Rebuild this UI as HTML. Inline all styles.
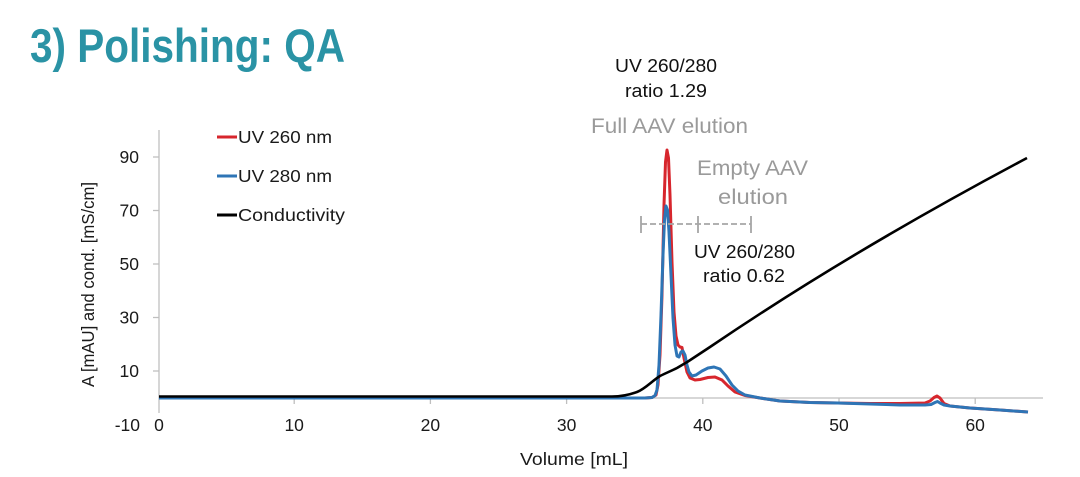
<!DOCTYPE html>
<html><head><meta charset="utf-8"><style>
html,body{margin:0;padding:0;background:#fff;}
svg{display:block;}
text{font-family:"Liberation Sans",sans-serif;}
</style></head><body>
<svg width="1080" height="477" viewBox="0 0 1080 477" xmlns="http://www.w3.org/2000/svg">
<rect width="1080" height="477" fill="#fff"/>
<text x="30" y="62" font-size="47" font-weight="bold" fill="#2a93a5" textLength="315" lengthAdjust="spacingAndGlyphs">3) Polishing: QA</text>

<!-- axes -->
<g stroke="#bfbfbf" stroke-width="1.3" fill="none">
<line x1="159" y1="130" x2="159" y2="413"/>
<line x1="159" y1="398" x2="1043" y2="398"/>
<line x1="153" y1="157" x2="159" y2="157"/>
<line x1="153" y1="210.5" x2="159" y2="210.5"/>
<line x1="153" y1="264" x2="159" y2="264"/>
<line x1="153" y1="317.5" x2="159" y2="317.5"/>
<line x1="153" y1="371" x2="159" y2="371"/>
<line x1="294.2" y1="398" x2="294.2" y2="404"/>
<line x1="430.4" y1="398" x2="430.4" y2="404"/>
<line x1="566.6" y1="398" x2="566.6" y2="404"/>
<line x1="702.8" y1="398" x2="702.8" y2="404"/>
<line x1="839" y1="398" x2="839" y2="404"/>
<line x1="975.2" y1="398" x2="975.2" y2="404"/>
</g>

<g font-size="17.5" fill="#1a1a1a" text-anchor="end">
<text x="139" y="163">90</text>
<text x="139" y="216.5">70</text>
<text x="139" y="270">50</text>
<text x="139" y="323.5">30</text>
<text x="139" y="377">10</text>
<text x="140" y="431">-10</text>
</g>
<g font-size="17.5" fill="#1a1a1a" text-anchor="middle">
<text x="159" y="431">0</text>
<text x="294.2" y="431">10</text>
<text x="430.4" y="431">20</text>
<text x="566.6" y="431">30</text>
<text x="702.8" y="431">40</text>
<text x="839" y="431">50</text>
<text x="975.2" y="431">60</text>
</g>
<text x="520" y="465" font-size="17.5" fill="#1a1a1a" textLength="108" lengthAdjust="spacingAndGlyphs">Volume [mL]</text>
<text transform="translate(94,387) rotate(-90)" font-size="17.5" fill="#1a1a1a" textLength="205" lengthAdjust="spacingAndGlyphs">A [mAU] and cond. [mS/cm]</text>

<!-- legend -->
<line x1="217" y1="137" x2="237" y2="137" stroke="#d7262d" stroke-width="3"/>
<line x1="217" y1="176" x2="237" y2="176" stroke="#2e75b6" stroke-width="3"/>
<line x1="217" y1="215" x2="237" y2="215" stroke="#000" stroke-width="3"/>
<g font-size="17.5" fill="#1a1a1a">
<text x="238" y="143" textLength="94" lengthAdjust="spacingAndGlyphs">UV 260 nm</text>
<text x="238" y="182" textLength="94" lengthAdjust="spacingAndGlyphs">UV 280 nm</text>
<text x="238" y="221" textLength="107" lengthAdjust="spacingAndGlyphs">Conductivity</text>
</g>

<!-- annotations -->
<g font-size="18" fill="#111">
<text x="615" y="72" textLength="102" lengthAdjust="spacingAndGlyphs">UV 260/280</text>
<text x="625" y="97" textLength="82" lengthAdjust="spacingAndGlyphs">ratio 1.29</text>
<text x="694" y="258" textLength="101" lengthAdjust="spacingAndGlyphs">UV 260/280</text>
<text x="703" y="282" textLength="82" lengthAdjust="spacingAndGlyphs">ratio 0.62</text>
</g>
<g font-size="21" fill="#9a9a9a">
<text x="591" y="133" textLength="157" lengthAdjust="spacingAndGlyphs">Full AAV elution</text>
<text x="697" y="175" textLength="111" lengthAdjust="spacingAndGlyphs">Empty AAV</text>
<text x="718" y="204" textLength="70" lengthAdjust="spacingAndGlyphs">elution</text>
</g>

<!-- red UV260 -->
<polyline fill="none" stroke="#d7262d" stroke-width="3" stroke-linejoin="round" points="159,398 645,398 652,397.5 656,395 658,385 660,355 662,295 664,205 665.5,162 667,150 668.5,158 670,195 672,262 674,312 676,336 678,345 680,347 682,347.5 684,358 687,372 690,378 695,380 700,379.5 708,377.5 715,377 722,380 728,386 735,392 745,395.5 760,398 780,401 810,402.5 838,403 870,403.5 900,403.5 925,403 930,401 934,397.5 937,396 940,398 944,403.5 950,406 970,408 1000,410 1028,412"/>
<!-- blue UV280 -->
<polyline fill="none" stroke="#2e75b6" stroke-width="3" stroke-linejoin="round" points="159,398 645,398 652,397.5 655,395.5 657,390 659,365 661,315 663,255 664.5,220 666,206 667.5,210 669,232 671,275 673,318 675,345 677,356 679,357 681,352 683,351 685,355 687,365 689,372 692,376 696,375 702,371 708,368 714,367 720,369 726,376 732,385 738,391 745,395 760,398 780,401 810,402.5 838,403 870,404 900,405 925,405 931,404.5 935,402.5 937.5,401.5 940,403 944,405 950,406 970,408 1000,410 1028,412"/>
<!-- conductivity -->
<path fill="none" stroke="#000" stroke-width="2.6" stroke-linejoin="round" d="M159,396.5 L612,396.5 C622,396.5 630,394.5 637,392 C645,389 652,381 660,376 C666,373 671,371 677,368 L688,361.5 L710,347 C815,275.6 922,213.7 1027,158"/>

<!-- dashed bracket -->
<g stroke="#a6a6a6" stroke-width="1.8" fill="none">
<line x1="641" y1="224" x2="751" y2="224" stroke-dasharray="6,3"/>
<line x1="641" y1="216" x2="641" y2="233"/>
<line x1="698" y1="216" x2="698" y2="233"/>
<line x1="751" y1="216" x2="751" y2="233"/>
</g>
</svg>
</body></html>
